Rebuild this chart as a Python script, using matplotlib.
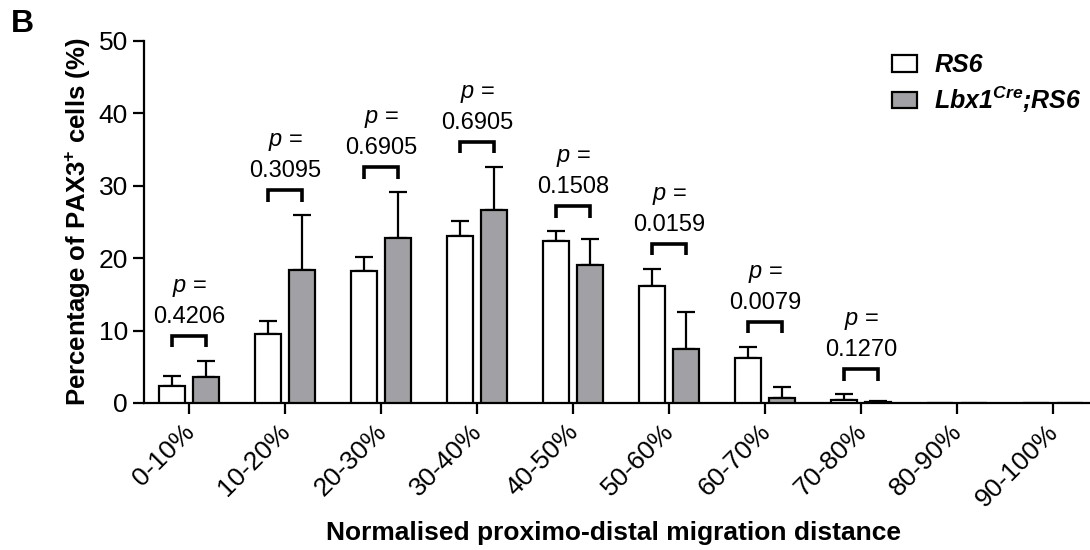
import numpy as np
import matplotlib
matplotlib.use("Agg")
import matplotlib.pyplot as plt
import matplotlib.transforms as mtrans

plt.rcParams['font.family'] = ['Liberation Sans', 'DejaVu Sans']
plt.rcParams['mathtext.fontset'] = 'custom'
plt.rcParams['mathtext.rm'] = 'Liberation Sans'
plt.rcParams['mathtext.it'] = 'Liberation Sans:italic'
plt.rcParams['mathtext.bf'] = 'Liberation Sans:bold'
plt.rcParams['mathtext.bfit'] = 'Liberation Sans:bold:italic'

# data
bins = ['0-10%', '10-20%', '20-30%', '30-40%', '40-50%',
        '50-60%', '60-70%', '70-80%', '80-90%', '90-100%']
rs6 = [2.4, 9.5, 18.2, 23.1, 22.4, 16.2, 6.2, 0.45, 0, 0]
rs6_err = [1.3, 1.8, 1.9, 2.0, 1.3, 2.3, 1.5, 0.75, 0, 0]
lbx = [3.6, 18.4, 22.8, 26.6, 19.1, 7.4, 0.65, 0.15, 0, 0]
lbx_err = [2.2, 7.5, 6.3, 6.0, 3.6, 5.2, 1.55, 0.15, 0, 0]
pvals = ['0.4206', '0.3095', '0.6905', '0.6905', '0.1508', '0.0159', '0.0079', '0.1270']

x = np.arange(len(bins))
w = 0.27
off = 0.18
gray = '#a1a1a5'

fig = plt.figure(figsize=(10.9, 5.5), dpi=100)
ax = fig.add_axes([144/1090, 1-403/550, 1-144/1090, (403-41)/550])

ax.bar(x - off, rs6, w, color='white', edgecolor='black', linewidth=1.6, zorder=3,
       label='RS6')
ax.bar(x + off, lbx, w, color=gray, edgecolor='black', linewidth=1.6, zorder=3,
       label=r'$\mathbfit{Lbx1^{Cre}}$;$\mathbfit{RS6}$')

r = np.array(rs6); re_ = np.array(rs6_err)
g = np.array(lbx); ge = np.array(lbx_err)
m1 = r > 0
m2 = g > 0
ax.errorbar(x[m1] - off, r[m1], yerr=[np.zeros(m1.sum()), re_[m1]], fmt='none',
            ecolor='black', elinewidth=1.6, capsize=6.5, capthick=1.6, zorder=2)
ax.errorbar(x[m2] + off, g[m2], yerr=[np.zeros(m2.sum()), ge[m2]], fmt='none',
            ecolor='black', elinewidth=1.6, capsize=6.5, capthick=1.6, zorder=2)

# p-value brackets
for i, p in enumerate(pvals):
    top = max(rs6[i] + rs6_err[i], lbx[i] + lbx_err[i]) + 3.5
    ax.plot([i - off, i - off, i + off, i + off], [top - 1.6, top, top, top - 1.6],
            color='black', lw=2.6, solid_capstyle='butt', solid_joinstyle='miter',
            clip_on=False, zorder=4)
    ax.text(i, top + 2.6, p, ha='center', va='center', fontsize=17)
    ax.text(i, top + 6.6, r'$p$ =', ha='center', va='center', fontsize=17)

ax.set_xlim(-0.47, 9.385)
ax.set_ylim(0, 50)
ax.set_yticks([0, 10, 20, 30, 40, 50])
ax.set_xticks(x)
ax.set_xticklabels([])
# rotated category labels, nudged a little left of the tick
shift = mtrans.ScaledTranslation(-7/100, -12/72, fig.dpi_scale_trans)
for i, lab in enumerate(bins):
    ax.text(i, 0, lab, transform=ax.get_xaxis_transform() + shift, rotation=45,
            ha='right', va='top', rotation_mode='anchor', fontsize=19)
ax.spines['top'].set_visible(False)
ax.spines['right'].set_visible(False)
for s in ['left', 'bottom']:
    ax.spines[s].set_linewidth(1.6)
ax.tick_params(axis='both', width=1.6, length=8, labelsize=19, direction='out')

ax.set_ylabel(r'Percentage of PAX3$^{\mathbf{+}}$ cells (%)', fontsize=18.5,
              fontweight='bold', labelpad=4)
fig.text(613/1090, 1-533/550, 'Normalised proximo-distal migration distance',
         fontsize=19, fontweight='bold', ha='center', va='center')

leg = ax.legend(loc='upper left', bbox_to_anchor=(892/1090, 1-53/550),
                bbox_transform=fig.transFigure, frameon=False,
                prop={'size': 18, 'weight': 'bold', 'style': 'italic'},
                handlelength=1.0, handleheight=0.65, handletextpad=0.7,
                labelspacing=0.3, borderpad=0, borderaxespad=0)

fig.text(11/1090, 1-9/550, 'B', fontsize=23, fontweight='bold', va='top', ha='left')

fig.savefig('out.png', dpi=100)
